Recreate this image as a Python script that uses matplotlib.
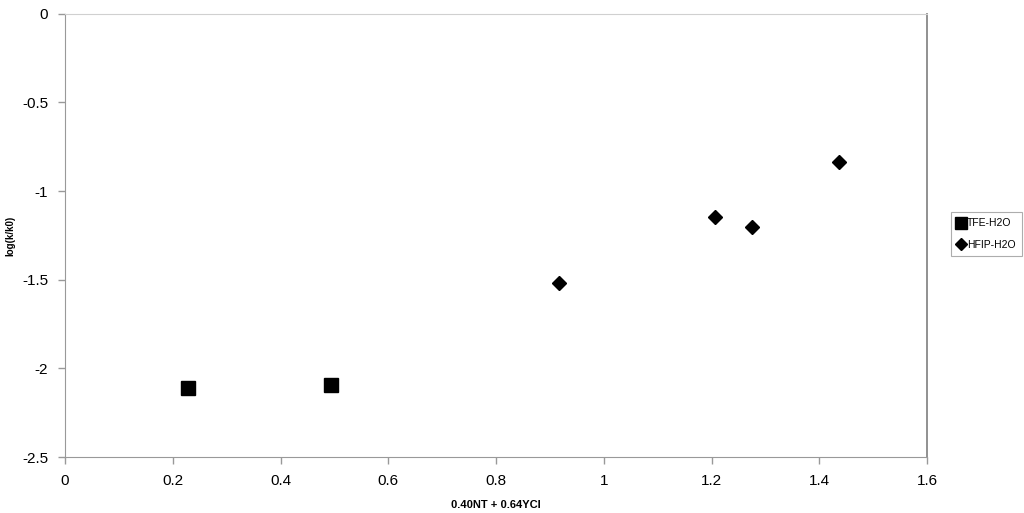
import matplotlib.pyplot as plt

plt.rcParams['font.family'] = ['Liberation Sans', 'DejaVu Sans']

tfe_x = [0.228, 0.494]
tfe_y = [-2.109, -2.094]
hfip_x = [0.917, 1.206, 1.276, 1.437]
hfip_y = [-1.516, -1.147, -1.202, -0.837]

x_ticks = [0, 0.2, 0.4, 0.6, 0.8, 1, 1.2, 1.4, 1.6]
x_tick_labels = ['0', '0.2', '0.4', '0.6', '0.8', '1', '1.2', '1.4', '1.6']
y_ticks = [0, -0.5, -1, -1.5, -2, -2.5]
y_tick_labels = ['0', '-0.5', '-1', '-1.5', '-2', '-2.5']


def main() -> None:
    fig = plt.figure(figsize=(10.24, 5.13), dpi=100)
    ax = fig.add_axes([0.0635, 0.109, 0.8418, 0.864])

    ax.plot(tfe_x, tfe_y, linestyle='none', marker='s', markersize=10.5,
            color='black', label='TFE-H2O', clip_on=False)
    ax.plot(hfip_x, hfip_y, linestyle='none', marker='D', markersize=7.5,
            color='black', label='HFIP-H2O', clip_on=False)

    ax.set_xlim(0, 1.6)
    ax.set_ylim(-2.5, 0)
    ax.set_xticks(x_ticks)
    ax.set_xticklabels(x_tick_labels)
    ax.set_yticks(y_ticks)
    ax.set_yticklabels(y_tick_labels)
    ax.tick_params(direction='out', length=5, width=1, color='#999999',
                   labelsize=11, pad=7)

    for side in ['left', 'bottom']:
        ax.spines[side].set_color('#999999')
    ax.spines['top'].set_color('#d0d0d0')
    ax.spines['right'].set_color('#888888')
    ax.spines['right'].set_linewidth(1.3)

    ax.set_xlabel('0.40NT + 0.64YCl', fontsize=8, fontweight='bold')
    ax.set_ylabel('log(k/k0)', fontsize=7, fontweight='bold')
    ax.xaxis.set_label_coords(0.5, -0.097)
    ax.yaxis.set_label_coords(-0.058, 0.5)

    leg = ax.legend(loc='center left', bbox_to_anchor=(0.929, 0.544),
                    bbox_transform=fig.transFigure, fontsize=7.5,
                    frameon=True, fancybox=False, edgecolor='#999999',
                    handlelength=0.7, handletextpad=0.2, borderpad=0.6,
                    borderaxespad=0, labelspacing=1.1, markerscale=0.8)
    leg.get_frame().set_linewidth(0.8)

    fig.savefig('out.png', dpi=100)


if __name__ == '__main__':
    main()
